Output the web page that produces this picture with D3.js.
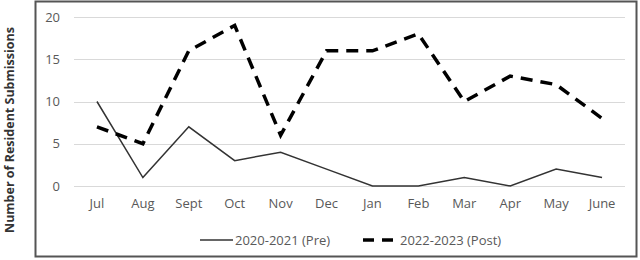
<!DOCTYPE html>
<html>
<head>
<meta charset="utf-8">
<script src="https://cdn.jsdelivr.net/npm/d3@7"></script>
<style>
body { margin:0; background:#fff; }
text { font-family: "Open Sans", "Liberation Sans", sans-serif; }
</style>
</head>
<body>
<script>
var WIDTH = 640, HEIGHT = 260;

var months = ["Jul","Aug","Sept","Oct","Nov","Dec","Jan","Feb","Mar","Apr","May","June"];
var pre = [10,1,7,3,4,2,0,0,1,0,2,1];
var post = [7,5,16,19,6,16,16,18,10,13,12,8];
var yTicks = [0,5,10,15,20];
var seriesNames = ["2020-2021 (Pre)","2022-2023 (Post)"];

var svg = d3.select("body").append("svg")
	.attr("width",WIDTH)
	.attr("height",HEIGHT);

// chart frame
svg.append("rect")
	.attr("x",35.5).attr("y",1.5)
	.attr("width",601).attr("height",255)
	.attr("fill","#fff")
	.attr("stroke","#555")
	.attr("stroke-width",2);

var xScale = d3.scaleBand().domain(months).range([74,625]);
var yScale = d3.scaleLinear().domain([0,20]).range([186,17]);

// gridlines
svg.append("g").selectAll("line").data(yTicks).enter().append("line")
	.attr("x1",74).attr("x2",625)
	.attr("y1",function(d){return Math.round(yScale(d))+0.5})
	.attr("y2",function(d){return Math.round(yScale(d))+0.5})
	.attr("stroke","#d9d9d9").attr("stroke-width",1);

// y tick labels
var yAxis = svg.append("g").attr("transform","translate(60,0)")
	.call(d3.axisLeft(yScale).tickValues(yTicks).tickSize(0).tickPadding(0));
yAxis.select(".domain").remove();
yAxis.selectAll("text")
	.attr("fill","#595959")
	.style("font-size","13px")
	.style("font-family","Open Sans, sans-serif");

// x tick labels
var xAxis = svg.append("g").attr("transform","translate(0,199)")
	.call(d3.axisBottom(xScale).tickSize(0).tickPadding(0));
xAxis.select(".domain").remove();
xAxis.selectAll("text")
	.attr("fill","#595959")
	.style("font-size","13px")
	.style("font-family","Open Sans, sans-serif");

var line = d3.line()
	.x(function(d,i){return xScale(months[i]) + xScale.bandwidth()/2})
	.y(function(d){return yScale(d)});

svg.append("path").attr("d",line(pre))
	.attr("fill","none").attr("stroke","#333").attr("stroke-width",1.5);

svg.append("path").attr("d",line(post))
	.attr("fill","none").attr("stroke","#000").attr("stroke-width",3.5)
	.attr("stroke-dasharray","12,8");

// y title
svg.append("text")
	.attr("transform","translate(14,130) rotate(-90)")
	.attr("text-anchor","middle")
	.attr("fill","#333")
	.style("font-size","12.5px")
	.style("font-weight","bold")
	.text("Number of Resident Submissions");

// legend
var leg = svg.append("g");
leg.append("line").attr("x1",200).attr("x2",233).attr("y1",240).attr("y2",240)
	.attr("stroke","#333").attr("stroke-width",1.5);
leg.append("text").attr("x",235).attr("y",244.5)
	.attr("fill","#595959").style("font-size","13px").text(seriesNames[0]);
leg.append("line").attr("x1",363).attr("x2",398).attr("y1",240).attr("y2",240)
	.attr("stroke","#000").attr("stroke-width",3.5).attr("stroke-dasharray","11,8");
leg.append("text").attr("x",400).attr("y",244.5)
	.attr("fill","#595959").style("font-size","13px").text(seriesNames[1]);
</script>
</body>
</html>
